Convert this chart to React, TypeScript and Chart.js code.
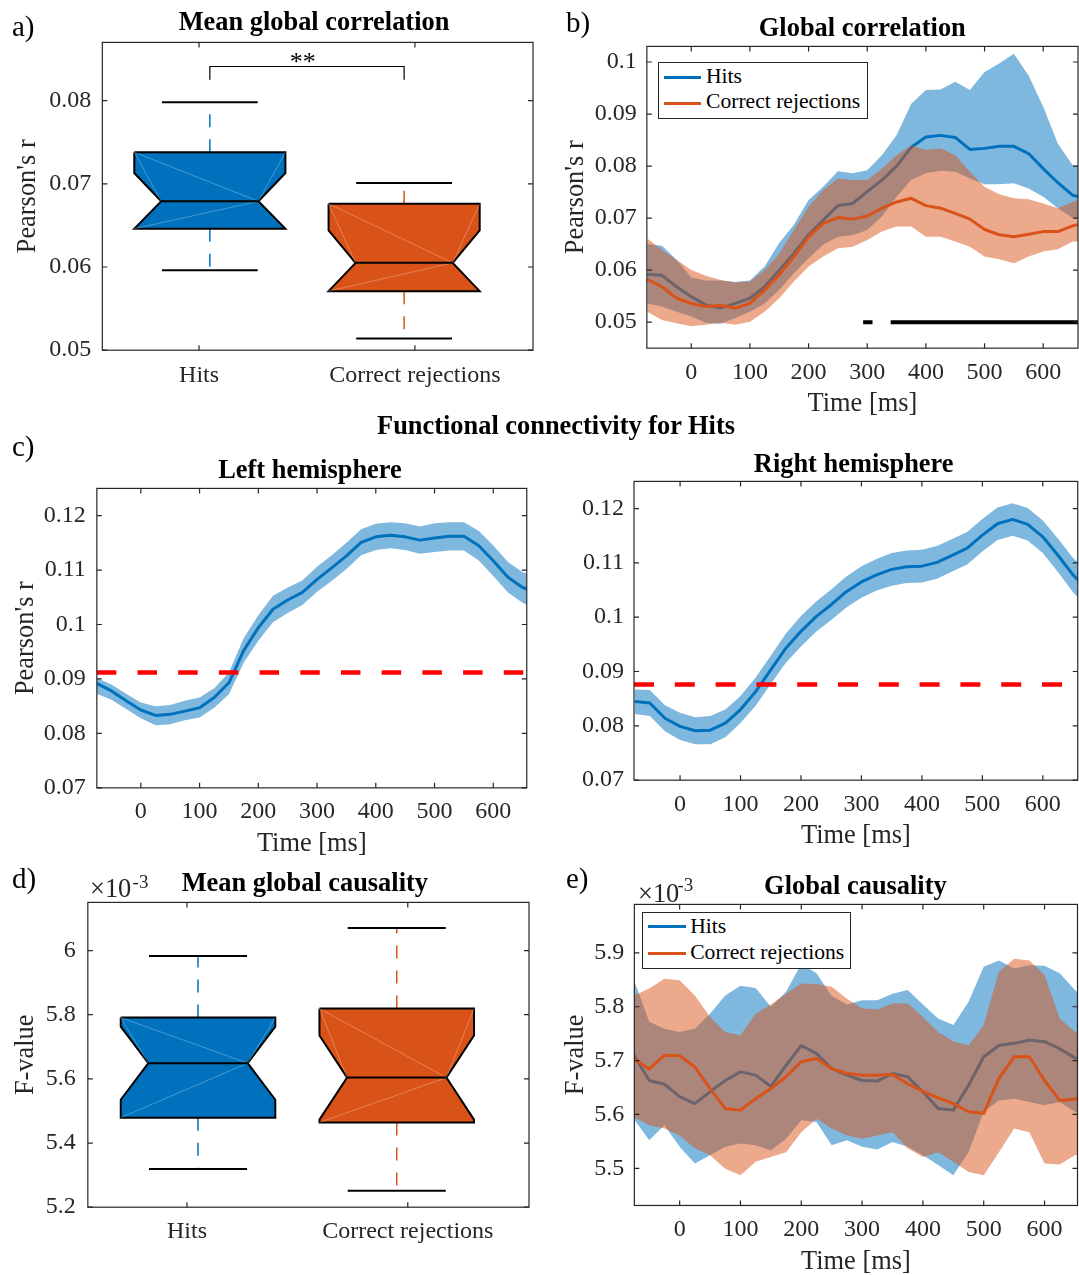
import React, { useEffect, useRef } from 'react';
import { Chart, registerables } from 'chart.js';
Chart.register(...registerables);

const SERIF = '"Liberation Serif", "Times New Roman", Times, serif';
const AXIS_COLOR = '#262626';
const HITS_COLOR = '#0072BD';
const CR_COLOR = '#D95319';
const HITS_BAND = 'rgba(0,114,189,0.5)';
const CR_BAND = 'rgba(217,83,25,0.5)';
const THRESHOLD_COLOR = '#FF0000';

/* ---------------- data ---------------- */
const conditions = ['Hits', 'Correct rejections'];
const conditionTicks = [1, 2];
const boxPositions = [1.05, 1.95];

// a) Mean global correlation (Pearson's r)
const corrQ1 = [0.0646, 0.0571];
const corrMedian = [0.0679, 0.0605];
const corrQ3 = [0.0738, 0.0676];
const corrWhiskerLow = [0.0596, 0.0514];
const corrWhiskerHigh = [0.0798, 0.0701];
const corrNotch = [0.0034, 0.0039];
const corrBracket = [0.0825, 0.0841];
const significanceLabel = '**';
const corrTicks = [0.05, 0.06, 0.07, 0.08];
const corrTickLabels = ['0.05', '0.06', '0.07', '0.08'];

// d) Mean global causality (F-value, x10^-3)
const causQ1 = [5.479, 5.464];
const causMedian = [5.649, 5.604];
const causQ3 = [5.791, 5.819];
const causWhiskerLow = [5.319, 5.251];
const causWhiskerHigh = [5.983, 6.07];
const causNotch = [0.114, 0.131];
const causBoxTicks = [5.2, 5.4, 5.6, 5.8, 6];
const causBoxTickLabels = ['5.2', '5.4', '5.6', '5.8', '6'];

// time axis (ms)
const timeMs = [-75, -50, -25, 0, 25, 50, 75, 100, 125, 150, 175, 200, 225, 250, 275, 300, 325, 350, 375, 400, 425, 450, 475, 500, 525, 550, 575, 600, 625, 650, 660];
const timeTicks = [0, 100, 200, 300, 400, 500, 600];
const timeTickLabels = ['0', '100', '200', '300', '400', '500', '600'];

// b) Global correlation
const hitsCorrMean = [0.0592, 0.0590, 0.0568, 0.0549, 0.0533, 0.0527, 0.0536, 0.0546, 0.0568, 0.0600, 0.0632, 0.0668, 0.0696, 0.0724, 0.0728, 0.0751, 0.0773, 0.0800, 0.0836, 0.0856, 0.0859, 0.0855, 0.0832, 0.0834, 0.0838, 0.0838, 0.0824, 0.0795, 0.0768, 0.0744, 0.0741];
const hitsCorrUpper = [0.0650, 0.0647, 0.0620, 0.0586, 0.0580, 0.0580, 0.0577, 0.0580, 0.0607, 0.0652, 0.0687, 0.0735, 0.0760, 0.0790, 0.0786, 0.0792, 0.0821, 0.0859, 0.0920, 0.0946, 0.0947, 0.0962, 0.0946, 0.0981, 0.0997, 0.1016, 0.0974, 0.0914, 0.0843, 0.0802, 0.0800];
const hitsCorrLower = [0.0536, 0.0530, 0.0520, 0.0511, 0.0499, 0.0497, 0.0508, 0.0520, 0.0536, 0.0562, 0.0594, 0.0623, 0.0649, 0.0664, 0.0667, 0.0677, 0.0703, 0.0741, 0.0773, 0.0786, 0.0791, 0.0789, 0.0776, 0.0765, 0.0765, 0.0767, 0.0757, 0.0741, 0.0719, 0.0700, 0.0698];
const crCorrMean = [0.0582, 0.0568, 0.0546, 0.0536, 0.0530, 0.0532, 0.0527, 0.0536, 0.0562, 0.0591, 0.0626, 0.0664, 0.0690, 0.0701, 0.0698, 0.0704, 0.0719, 0.0731, 0.0738, 0.0724, 0.0719, 0.0709, 0.0698, 0.0678, 0.0668, 0.0664, 0.0669, 0.0674, 0.0674, 0.0685, 0.0688];
const crCorrUpper = [0.0661, 0.0639, 0.0620, 0.0600, 0.0589, 0.0581, 0.0576, 0.0578, 0.0600, 0.0632, 0.0677, 0.0722, 0.0754, 0.0776, 0.0773, 0.0773, 0.0795, 0.0821, 0.0840, 0.0831, 0.0834, 0.0821, 0.0789, 0.0760, 0.0746, 0.0738, 0.0736, 0.0728, 0.0719, 0.0731, 0.0736];
const crCorrLower = [0.0520, 0.0504, 0.0498, 0.0492, 0.0495, 0.0499, 0.0495, 0.0501, 0.0520, 0.0546, 0.0578, 0.0607, 0.0626, 0.0642, 0.0645, 0.0658, 0.0674, 0.0684, 0.0684, 0.0664, 0.0664, 0.0655, 0.0645, 0.0626, 0.0621, 0.0613, 0.0626, 0.0636, 0.0640, 0.0655, 0.0655];
const significantSegments = [[293, 309], [340, 660]];
const significanceLevel = 0.05;
const corrTimeTicks = [0.05, 0.06, 0.07, 0.08, 0.09, 0.1];
const corrTimeTickLabels = ['0.05', '0.06', '0.07', '0.08', '0.09', '0.1'];

// c) Functional connectivity for Hits
const leftMean = [0.0892, 0.0878, 0.0860, 0.0843, 0.0833, 0.0835, 0.0841, 0.0847, 0.0866, 0.0893, 0.0952, 0.0994, 0.1028, 0.1045, 0.1059, 0.1083, 0.1104, 0.1126, 0.1151, 0.1161, 0.1164, 0.1161, 0.1155, 0.1159, 0.1162, 0.1162, 0.1145, 0.1117, 0.1087, 0.1068, 0.1064];
const leftUpper = [0.0902, 0.0890, 0.0873, 0.0857, 0.0850, 0.0852, 0.0860, 0.0866, 0.0883, 0.0912, 0.0975, 0.1017, 0.1053, 0.1068, 0.1081, 0.1106, 0.1127, 0.1150, 0.1175, 0.1185, 0.1188, 0.1186, 0.1180, 0.1186, 0.1188, 0.1188, 0.1172, 0.1145, 0.1115, 0.1096, 0.1093];
const leftLower = [0.0873, 0.0862, 0.0845, 0.0828, 0.0815, 0.0817, 0.0824, 0.0829, 0.0847, 0.0872, 0.0930, 0.0970, 0.1004, 0.1021, 0.1036, 0.1060, 0.1080, 0.1102, 0.1127, 0.1137, 0.1140, 0.1137, 0.1130, 0.1133, 0.1136, 0.1136, 0.1118, 0.1089, 0.1059, 0.1040, 0.1035];
const leftThreshold = 0.0912;
const rightMean = [0.0845, 0.0842, 0.0814, 0.0799, 0.0791, 0.0792, 0.0805, 0.0830, 0.0863, 0.0903, 0.0943, 0.0974, 0.1001, 0.1023, 0.1047, 0.1065, 0.1078, 0.1088, 0.1093, 0.1094, 0.1101, 0.1114, 0.1127, 0.1151, 0.1172, 0.1180, 0.1171, 0.1148, 0.1114, 0.1078, 0.1067];
const rightUpper = [0.0867, 0.0866, 0.0838, 0.0824, 0.0816, 0.0818, 0.0830, 0.0855, 0.0889, 0.0929, 0.0970, 0.1002, 0.1029, 0.1051, 0.1075, 0.1094, 0.1107, 0.1118, 0.1123, 0.1124, 0.1131, 0.1144, 0.1157, 0.1181, 0.1202, 0.1210, 0.1201, 0.1178, 0.1145, 0.1109, 0.1099];
const rightLower = [0.0822, 0.0818, 0.0790, 0.0774, 0.0766, 0.0766, 0.0779, 0.0805, 0.0837, 0.0877, 0.0916, 0.0946, 0.0973, 0.0995, 0.1018, 0.1036, 0.1049, 0.1058, 0.1063, 0.1064, 0.1071, 0.1084, 0.1097, 0.1121, 0.1142, 0.1150, 0.1141, 0.1118, 0.1083, 0.1046, 0.1034];
const rightThreshold = 0.0876;
const hemiTicks = [0.07, 0.08, 0.09, 0.1, 0.11, 0.12];
const hemiTickLabels = ['0.07', '0.08', '0.09', '0.1', '0.11', '0.12'];

// e) Global causality (x10^-3)
const hitsCausMean = [5.710, 5.663, 5.656, 5.633, 5.620, 5.642, 5.663, 5.679, 5.673, 5.652, 5.691, 5.728, 5.713, 5.685, 5.673, 5.663, 5.662, 5.676, 5.670, 5.642, 5.611, 5.608, 5.654, 5.707, 5.728, 5.732, 5.738, 5.735, 5.722, 5.705, 5.701];
const hitsCausUpper = [5.849, 5.772, 5.759, 5.753, 5.759, 5.787, 5.821, 5.839, 5.835, 5.800, 5.828, 5.880, 5.862, 5.820, 5.804, 5.812, 5.812, 5.824, 5.831, 5.804, 5.778, 5.766, 5.809, 5.874, 5.886, 5.871, 5.877, 5.876, 5.862, 5.831, 5.821];
const hitsCausLower = [5.591, 5.552, 5.580, 5.540, 5.509, 5.524, 5.540, 5.546, 5.543, 5.533, 5.555, 5.589, 5.586, 5.543, 5.552, 5.540, 5.535, 5.549, 5.540, 5.524, 5.506, 5.487, 5.530, 5.605, 5.626, 5.629, 5.623, 5.617, 5.623, 5.605, 5.600];
const crCausMean = [5.704, 5.684, 5.710, 5.709, 5.688, 5.648, 5.611, 5.608, 5.629, 5.648, 5.670, 5.698, 5.704, 5.685, 5.676, 5.673, 5.673, 5.674, 5.657, 5.643, 5.631, 5.620, 5.605, 5.602, 5.667, 5.707, 5.707, 5.663, 5.626, 5.628, 5.633];
const crCausUpper = [5.821, 5.834, 5.852, 5.849, 5.821, 5.781, 5.753, 5.747, 5.787, 5.804, 5.824, 5.843, 5.842, 5.837, 5.815, 5.797, 5.795, 5.806, 5.806, 5.781, 5.753, 5.736, 5.728, 5.766, 5.865, 5.889, 5.886, 5.859, 5.778, 5.753, 5.754];
const crCausLower = [5.595, 5.580, 5.574, 5.561, 5.537, 5.524, 5.499, 5.487, 5.512, 5.521, 5.530, 5.567, 5.592, 5.574, 5.561, 5.555, 5.561, 5.567, 5.537, 5.521, 5.530, 5.512, 5.493, 5.487, 5.530, 5.574, 5.567, 5.509, 5.507, 5.524, 5.527];
const causTimeTicks = [5.5, 5.6, 5.7, 5.8, 5.9];
const causTimeTickLabels = ['5.5', '5.6', '5.7', '5.8', '5.9'];

/* ---------------- helpers ---------------- */
Chart.defaults.font.family = SERIF;

const BOX_HALF = 0.35;
const NOTCH_HALF = 0.225;
const CAP_HALF = 0.222;
const TITLE_SIZE = 26.4;
const TITLE_LH = TITLE_SIZE * 1.2;

type Pt = { x: number; y: number | null };
type Area = { left: number; top: number; right: number; bottom: number };

function lineDs(data: Pt[], color: string, width: number, order: number, dash: number[] = [], join = 'miter') {
  return {
    data, borderColor: color, borderWidth: width, order, borderDash: dash, fill: false,
    pointRadius: 0, backgroundColor: 'transparent', borderJoinStyle: join, spanGaps: false,
  };
}

function boxplotDatasets(s: { q1: number[]; med: number[]; q3: number[]; lo: number[]; hi: number[]; notch: number[] }) {
  const colors = [HITS_COLOR, CR_COLOR];
  const out: any[] = [];
  boxPositions.forEach((p, i) => {
    const L = p - BOX_HALF, R = p + BOX_HALF, nl = p - NOTCH_HALF, nr = p + NOTCH_HALF;
    const med = s.med[i], q1 = s.q1[i], q3 = s.q3[i];
    const nHi = Math.min(med + s.notch[i], q3);
    const nLo = Math.max(med - s.notch[i], q1);
    out.push(lineDs([{ x: p, y: q3 }, { x: p, y: s.hi[i] }], colors[i], 1.5, 9, [13, 12]));
    out.push(lineDs([{ x: p, y: q1 }, { x: p, y: s.lo[i] }], colors[i], 1.5, 9, [13, 12]));
    out.push(lineDs([{ x: p - CAP_HALF, y: s.hi[i] }, { x: p + CAP_HALF, y: s.hi[i] }], '#000', 2, 8));
    out.push(lineDs([{ x: p - CAP_HALF, y: s.lo[i] }, { x: p + CAP_HALF, y: s.lo[i] }], '#000', 2, 8));
    const poly: Pt[] = [
      { x: L, y: q3 }, { x: R, y: q3 }, { x: R, y: nHi }, { x: nr, y: med }, { x: R, y: nLo }, { x: R, y: q1 },
      { x: L, y: q1 }, { x: L, y: nLo }, { x: nl, y: med }, { x: L, y: nHi }, { x: L, y: q3 },
    ];
    out.push({ ...lineDs(poly, '#000', 2, 4), fill: 'shape', backgroundColor: colors[i] });
    const chords: Pt[] = [
      { x: L, y: q3 }, { x: nr, y: med }, { x: p, y: null },
      { x: L, y: q1 }, { x: nr, y: med }, { x: p, y: null },
      { x: L, y: q3 }, { x: nl, y: med }, { x: p, y: null },
      { x: R, y: q3 }, { x: nr, y: med },
    ];
    out.push(lineDs(chords, 'rgba(255,255,255,0.35)', 0.8, 3));
    out.push(lineDs([{ x: nl, y: med }, { x: nr, y: med }], '#000', 2, 2));
  });
  return out;
}

const pts = (vals: number[]): Pt[] => timeMs.map((t, i) => ({ x: t, y: vals[i] }));

function bandPair(lower: number[], upper: number[], color: string, lowerIndex: number, order: number) {
  return [
    { data: pts(lower), borderColor: 'transparent', borderWidth: 0, pointRadius: 0, fill: false, order: 20 },
    { data: pts(upper), borderColor: 'transparent', borderWidth: 0, pointRadius: 0, fill: lowerIndex, backgroundColor: color, order },
  ];
}

// titleAt: page coordinate of the axis title centre (y for x-axis, x for y-axis)
type AxisSpec = { min: number; max: number; ticks: number[]; labels: string[]; pad: number; title?: string; titleAt?: number };

function makeOptions(area: Area, x: AxisSpec, y: AxisSpec) {
  const tickFont = { family: SERIF, size: 24 };
  const titleFont = { family: SERIF, size: TITLE_SIZE };
  const axis = (s: AxisSpec, isX: boolean) => {
    const o: any = {
      type: 'linear',
      min: s.min,
      max: s.max,
      afterBuildTicks: (sc: any) => { sc.ticks = s.ticks.map((v) => ({ value: v })); },
      ticks: {
        padding: s.pad, color: AXIS_COLOR, font: tickFont, autoSkip: false, maxRotation: 0, minRotation: 0,
        callback: (v: number) => { const k = s.ticks.indexOf(v); return k >= 0 ? s.labels[k] : ''; },
      },
      grid: { display: false, drawTicks: false },
      border: { display: false },
      title: s.title
        ? { display: true, text: s.title, color: AXIS_COLOR, font: titleFont, padding: 0 }
        : { display: false },
    };
    if (s.title && s.titleAt !== undefined) {
      const at = s.titleAt;
      o.afterFit = isX
        ? (sc: any) => { sc.height = at - area.bottom + TITLE_LH / 2; }
        : (sc: any) => { sc.width = area.left - at + TITLE_LH / 2; };
    }
    return o;
  };
  return {
    animation: false,
    responsive: true,
    maintainAspectRatio: false,
    events: [],
    layout: { padding: 0 },
    elements: { point: { radius: 0, hoverRadius: 0 }, line: { tension: 0, borderCapStyle: 'butt' } },
    plugins: { legend: { display: false }, tooltip: { enabled: false }, title: { display: false }, colors: { enabled: false } },
    scales: { x: axis(x, true), y: axis(y, false) },
  };
}

const matlabAxes = {
  id: 'matlabAxes',
  afterDatasetsDraw(chart: any) {
    const { ctx, chartArea: a, scales } = chart;
    const xs = scales.x, ys = scales.y;
    const TL = 5;
    ctx.save();
    ctx.strokeStyle = AXIS_COLOR;
    ctx.lineWidth = 1.2;
    ctx.setLineDash([]);
    ctx.beginPath();
    for (const t of xs.ticks) {
      const px = xs.getPixelForValue(t.value);
      ctx.moveTo(px, a.bottom); ctx.lineTo(px, a.bottom - TL);
      ctx.moveTo(px, a.top); ctx.lineTo(px, a.top + TL);
    }
    for (const t of ys.ticks) {
      const py = ys.getPixelForValue(t.value);
      ctx.moveTo(a.left, py); ctx.lineTo(a.left + TL, py);
      ctx.moveTo(a.right, py); ctx.lineTo(a.right - TL, py);
    }
    ctx.stroke();
    ctx.strokeRect(a.left, a.top, a.right - a.left, a.bottom - a.top);
    ctx.restore();
  },
};

const significancePlugin = {
  id: 'significanceStars',
  afterDatasetsDraw(chart: any) {
    const { ctx, scales } = chart;
    ctx.save();
    ctx.fillStyle = '#000';
    ctx.font = `26px ${SERIF}`;
    ctx.textAlign = 'center';
    ctx.textBaseline = 'alphabetic';
    ctx.fillText(significanceLabel, scales.x.getPixelForValue(1.48), scales.y.getPixelForValue(corrBracket[1]) + 3.5);
    ctx.restore();
  },
};

function ChartPanel({ area, build }: { area: Area; build: (a: Area) => any }) {
  const wrapRef = useRef<HTMLDivElement>(null);
  const canvasRef = useRef<HTMLCanvasElement>(null);
  useEffect(() => {
    const wrap = wrapRef.current!;
    const W = area.right - area.left;
    const H = area.bottom - area.top;
    let w = Math.round(W + 160);
    let h = Math.round(H + 100);
    wrap.style.width = w + 'px';
    wrap.style.height = h + 'px';
    const chart = new Chart(canvasRef.current!, build(area));
    for (let k = 0; k < 3; k++) {
      const a = chart.chartArea;
      w = Math.round(w + W - (a.right - a.left));
      h = Math.round(h + H - (a.bottom - a.top));
      wrap.style.width = w + 'px';
      wrap.style.height = h + 'px';
      chart.resize();
    }
    const a = chart.chartArea;
    wrap.style.left = Math.round(area.left - a.left) + 'px';
    wrap.style.top = Math.round(area.top - a.top) + 'px';
    return () => chart.destroy();
  }, []);
  return (
    <div ref={wrapRef} style={{ position: 'absolute', left: 0, top: 0 }}>
      <canvas ref={canvasRef} />
    </div>
  );
}

/* ---------------- panels ---------------- */
const panels: { area: Area; build: (a: Area) => any }[] = [
  {
    area: { left: 102, top: 42, right: 533, bottom: 350 },
    build: (area) => ({
      type: 'line',
      data: {
        datasets: [
          ...boxplotDatasets({ q1: corrQ1, med: corrMedian, q3: corrQ3, lo: corrWhiskerLow, hi: corrWhiskerHigh, notch: corrNotch }),
          lineDs([
            { x: boxPositions[0], y: corrBracket[0] }, { x: boxPositions[0], y: corrBracket[1] },
            { x: boxPositions[1], y: corrBracket[1] }, { x: boxPositions[1], y: corrBracket[0] },
          ], '#000', 1.2, 1),
        ],
      },
      options: makeOptions(area,
        { min: 0.552, max: 2.547, ticks: conditionTicks, labels: conditions, pad: 11.5 },
        { min: 0.05, max: 0.087, ticks: corrTicks, labels: corrTickLabels, pad: 11, title: "Pearson's r", titleAt: 27.5 },
      ),
      plugins: [matlabAxes, significancePlugin],
    }),
  },
  {
    area: { left: 647, top: 46, right: 1078, bottom: 348 },
    build: (area) => {
      const sig: Pt[] = [];
      significantSegments.forEach(([a, b], i) => {
        if (i > 0) sig.push({ x: (a + significantSegments[i - 1][1]) / 2, y: null });
        sig.push({ x: a, y: significanceLevel }, { x: b, y: significanceLevel });
      });
      return {
        type: 'line',
        data: {
          datasets: [
            ...bandPair(hitsCorrLower, hitsCorrUpper, HITS_BAND, 0, 6),
            lineDs(pts(hitsCorrMean), HITS_COLOR, 3, 5, [], 'round'),
            ...bandPair(crCorrLower, crCorrUpper, CR_BAND, 3, 4),
            lineDs(pts(crCorrMean), CR_COLOR, 3, 3, [], 'round'),
            lineDs(sig, '#000', 4, 1),
          ],
        },
        options: makeOptions(area,
          { min: -75.7, max: 659.3, ticks: timeTicks, labels: timeTickLabels, pad: 10, title: 'Time [ms]', titleAt: 404 },
          { min: 0.045, max: 0.103, ticks: corrTimeTicks, labels: corrTimeTickLabels, pad: 10, title: "Pearson's r", titleAt: 576 },
        ),
        plugins: [matlabAxes],
      };
    },
  },
  {
    area: { left: 97, top: 488, right: 527, bottom: 787 },
    build: (area) => ({
      type: 'line',
      data: {
        datasets: [
          ...bandPair(leftLower, leftUpper, HITS_BAND, 0, 6),
          lineDs(pts(leftMean), HITS_COLOR, 3, 5, [], 'round'),
          lineDs([{ x: timeMs[0], y: leftThreshold }, { x: timeMs[timeMs.length - 1], y: leftThreshold }], THRESHOLD_COLOR, 4.5, 1, [19.5, 21.2]),
        ],
      },
      options: makeOptions(area,
        { min: -74.9, max: 657, ticks: timeTicks, labels: timeTickLabels, pad: 9, title: 'Time [ms]', titleAt: 843.3 },
        { min: 0.07, max: 0.125, ticks: hemiTicks, labels: hemiTickLabels, pad: 11, title: "Pearson's r", titleAt: 26 },
      ),
      plugins: [matlabAxes],
    }),
  },
  {
    area: { left: 633.5, top: 481.7, right: 1077, bottom: 780.7 },
    build: (area) => ({
      type: 'line',
      data: {
        datasets: [
          ...bandPair(rightLower, rightUpper, HITS_BAND, 0, 6),
          lineDs(pts(rightMean), HITS_COLOR, 3, 5, [], 'round'),
          lineDs([{ x: -76.2, y: rightThreshold }, { x: timeMs[timeMs.length - 1], y: rightThreshold }], THRESHOLD_COLOR, 4.5, 1, [20, 20.8]),
        ],
      },
      options: makeOptions(area,
        { min: -76.2, max: 657.8, ticks: timeTicks, labels: timeTickLabels, pad: 10, title: 'Time [ms]', titleAt: 836.7 },
        { min: 0.07, max: 0.125, ticks: hemiTicks, labels: hemiTickLabels, pad: 10 },
      ),
      plugins: [matlabAxes],
    }),
  },
  {
    area: { left: 88, top: 902, right: 529, bottom: 1207 },
    build: (area) => ({
      type: 'line',
      data: {
        datasets: boxplotDatasets({ q1: causQ1, med: causMedian, q3: causQ3, lo: causWhiskerLow, hi: causWhiskerHigh, notch: causNotch }),
      },
      options: makeOptions(area,
        { min: 0.551, max: 2.549, ticks: conditionTicks, labels: conditions, pad: 10 },
        { min: 5.2, max: 6.15, ticks: causBoxTicks, labels: causBoxTickLabels, pad: 12, title: 'F-value', titleAt: 26 },
      ),
      plugins: [matlabAxes],
    }),
  },
  {
    area: { left: 634.5, top: 904, right: 1078, bottom: 1205 },
    build: (area) => ({
      type: 'line',
      data: {
        datasets: [
          ...bandPair(hitsCausLower, hitsCausUpper, HITS_BAND, 0, 6),
          lineDs(pts(hitsCausMean), HITS_COLOR, 3, 5, [], 'round'),
          ...bandPair(crCausLower, crCausUpper, CR_BAND, 3, 4),
          lineDs(pts(crCausMean), CR_COLOR, 3, 3, [], 'round'),
        ],
      },
      options: makeOptions(area,
        { min: -74.5, max: 654.2, ticks: timeTicks, labels: timeTickLabels, pad: 10, title: 'Time [ms]', titleAt: 1261.7 },
        { min: 5.431, max: 5.99, ticks: causTimeTicks, labels: causTimeTickLabels, pad: 10, title: 'F-value', titleAt: 576 },
      ),
      plugins: [matlabAxes],
    }),
  },
];

/* ---------------- text overlays ---------------- */
function Txt({ x, y, size, bold, center = true, color = '#000', children }: any) {
  return (
    <div
      style={{
        position: 'absolute', left: x, top: y,
        transform: center ? 'translate(-50%, -50%)' : 'translate(0, -50%)',
        font: `${bold ? 'bold ' : ''}${size}px ${SERIF}`, lineHeight: 1, whiteSpace: 'nowrap', color,
      }}
    >
      {children}
    </div>
  );
}

function Legend({ left, top, width, height, lineLeft, lineWidth, textLeft, rows }: any) {
  return (
    <div style={{ position: 'absolute', left, top, width, height, border: `1.2px solid ${AXIS_COLOR}`, background: '#fff', boxSizing: 'border-box' }}>
      {rows.map((r: any) => (
        <React.Fragment key={r.label}>
          <div style={{ position: 'absolute', left: lineLeft - left - 1, top: r.lineY - top - 2.5, width: lineWidth, height: 3, background: r.color }} />
          <div style={{ position: 'absolute', left: textLeft - left - 1, top: r.textY - top - 1, transform: 'translateY(-50%)', font: `21.6px ${SERIF}`, lineHeight: 1, whiteSpace: 'nowrap', color: '#000' }}>
            {r.label}
          </div>
        </React.Fragment>
      ))}
    </div>
  );
}

export default function App() {
  return (
    <div style={{ position: 'absolute', left: 0, top: 0, width: 1079, height: 1275, overflow: 'hidden', background: '#fff', fontFamily: SERIF }}>
      {panels.map((p, i) => (
        <ChartPanel key={i} area={p.area} build={p.build} />
      ))}

      <Txt x={12} y={25.5} size={29} center={false}>a)</Txt>
      <Txt x={566} y={22} size={29} center={false}>b)</Txt>
      <Txt x={12} y={445.5} size={29} center={false}>c)</Txt>
      <Txt x={12} y={878} size={29} center={false}>d)</Txt>
      <Txt x={566} y={878} size={29} center={false}>e)</Txt>

      <Txt x={314} y={21.2} size={26.4} bold>Mean global correlation</Txt>
      <Txt x={862.3} y={27} size={26.4} bold>Global correlation</Txt>
      <Txt x={556} y={424.5} size={26.4} bold>Functional connectivity for Hits</Txt>
      <Txt x={310} y={468.8} size={26.4} bold>Left hemisphere</Txt>
      <Txt x={853.7} y={462.8} size={26.4} bold>Right hemisphere</Txt>
      <Txt x={304.8} y={882.2} size={26.4} bold>Mean global causality</Txt>
      <Txt x={855.4} y={884.5} size={26.4} bold>Global causality</Txt>

      <Txt x={90} y={888} size={26.4} center={false} color={AXIS_COLOR}>×10</Txt>
      <Txt x={132.6} y={880.5} size={19} center={false} color={AXIS_COLOR}>-3</Txt>
      <Txt x={638} y={892.7} size={26.4} center={false} color={AXIS_COLOR}>×10</Txt>
      <Txt x={677.5} y={883.8} size={19} center={false} color={AXIS_COLOR}>-3</Txt>

      <Legend
        left={658} top={61.7} width={209.7} height={57.3} lineLeft={663.8} lineWidth={37.1} textLeft={706}
        rows={[
          { label: conditions[0], color: HITS_COLOR, lineY: 77.3, textY: 76.7 },
          { label: conditions[1], color: CR_COLOR, lineY: 104, textY: 102.5 },
        ]}
      />
      <Legend
        left={642.4} top={911.7} width={209} height={57.6} lineLeft={647.6} lineWidth={38.4} textLeft={690.2}
        rows={[
          { label: conditions[0], color: HITS_COLOR, lineY: 926.7, textY: 927.5 },
          { label: conditions[1], color: CR_COLOR, lineY: 953.3, textY: 953.2 },
        ]}
      />
    </div>
  );
}
